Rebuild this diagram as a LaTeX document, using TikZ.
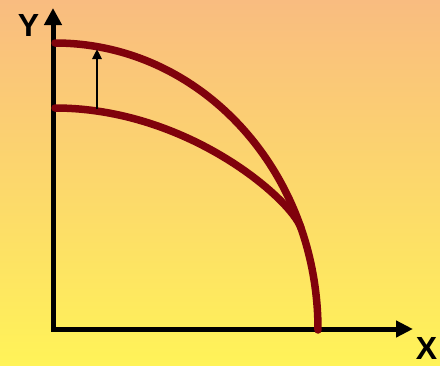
\documentclass[tikz,border=0pt]{standalone}
\usepackage{fontspec}
\setmainfont{Liberation Sans}
\usetikzlibrary{arrows.meta}
\definecolor{curvered}{RGB}{128,2,12}
\definecolor{bgtop}{RGB}{249,188,128}
\definecolor{bgbot}{RGB}{255,243,88}
\begin{document}
\begin{tikzpicture}[x=1pt,y=-1pt,
  axis/.style={line width=5pt, line join=miter,
    {Triangle[length=17pt,width=17pt]}-{Triangle[length=17pt,width=16pt]}},
  ppf/.style={line width=7.5pt, draw=curvered, line cap=round},
  shiftarrow/.style={line width=2.6pt, -{Triangle[length=10pt,width=9pt]}},
  axislabel/.style={font=\bfseries\fontsize{32}{32}\selectfont, inner sep=0pt}]
\shade[top color=bgtop, bottom color=bgbot] (0,0) rectangle (440,365);
\useasboundingbox (0,0) rectangle (440,365);
% axes
\coordinate (ytip) at (53,8);
\coordinate (o) at (53,329);
\coordinate (xtip) at (413,329);
\draw[axis] (ytip) -- (o) -- (xtip);
% curves
\coordinate (outerA) at (55,43);
\coordinate (outerB) at (318,330);
\coordinate (innerA) at (55,108);
\coordinate (innerB) at (301,228);
\draw[ppf] (innerA) .. controls (187,108) and (291,199) .. (innerB);
\draw[ppf] (outerA) .. controls (201,43) and (318,171.5) .. (outerB);
% shift arrow
\coordinate (sa) at (97,109);
\coordinate (sb) at (97,49);
\draw[shiftarrow] (sa) -- (sb);
% labels
\node[axislabel] (ylab) at (28.5,25) {Y};
\node[axislabel] (xlab) at (426.5,348) {X};
\end{tikzpicture}
\end{document}
